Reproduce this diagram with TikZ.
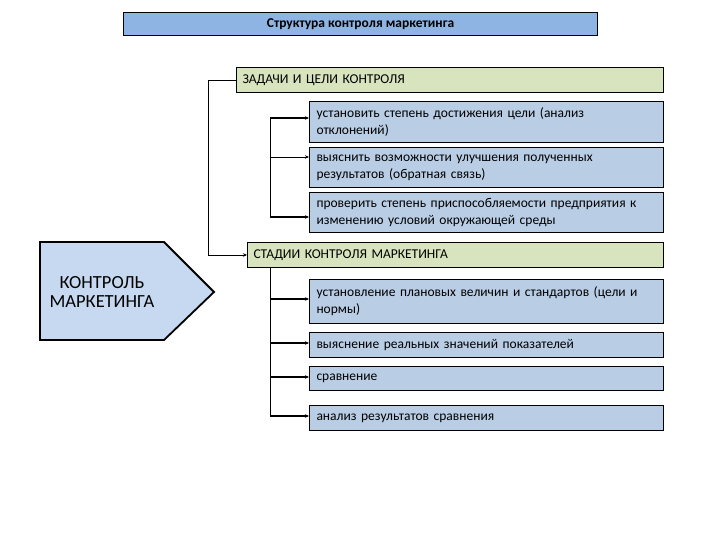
\documentclass[tikz,border=0pt]{standalone}
\usepackage{fontspec}
\setmainfont{Carlito}
\usetikzlibrary{arrows.meta}
\definecolor{titleblue}{RGB}{141,180,226}
\definecolor{boxgreen}{RGB}{215,228,189}
\definecolor{boxblue}{RGB}{185,205,229}
\definecolor{pentblue}{RGB}{198,217,241}
\tikzset{
  base/.style={draw=black, line width=1pt, anchor=north west, inner ysep=0pt,
    font=\fontsize{13.5}{17}\selectfont, align=left},
  titlebox/.style={draw=black, line width=1pt, fill=titleblue, anchor=north west,
    minimum width=474pt, minimum height=23pt, inner sep=0pt,
    font=\fontsize{13.5}{15}\selectfont\bfseries},
  greenbox/.style={base, fill=boxgreen, minimum height=25pt},
  bluebox/.style={base, fill=boxblue, minimum width=354pt, text width=340pt, inner xsep=7pt},
  conn/.style={line width=0.8pt, line join=miter},
  thickconn/.style={line width=1.6pt},
  tip/.style={-{Stealth[length=4pt,width=3.5pt]}},
}
\begin{document}
\begin{tikzpicture}[x=1pt,y=-1pt]
\useasboundingbox (0,0) rectangle (720,540);
% title
\node[titlebox] (title) at (123,12) {Структура контроля маркетинга};
% pentagon
\draw[line width=1.8pt, fill=pentblue, line join=miter]
  (40,242) -- (164,242) -- (214,292) -- (164,340) -- (40,340) -- cycle;
\node[font=\fontsize{18.5}{19.5}\selectfont, align=center] (ctrl) at (102,292) {КОНТРОЛЬ\\МАРКЕТИНГА};
% green headers
\node[greenbox, minimum width=427pt, text width=415pt, inner xsep=6pt] (g1) at (236,67) {ЗАДАЧИ И ЦЕЛИ КОНТРОЛЯ};
\node[greenbox, minimum width=416pt, text width=404pt, inner xsep=6pt] (g2) at (247,242) {СТАДИИ КОНТРОЛЯ МАРКЕТИНГА};
% goals
\node[bluebox, minimum height=41pt] (b1) at (309,101) {установить степень достижения цели (анализ\\отклонений)};
\node[bluebox, minimum height=40pt] (b2) at (309,147) {выяснить возможности улучшения полученных\\результатов (обратная связь)};
\node[bluebox, minimum height=40pt] (b3) at (309,192) {проверить степень приспособляемости предприятия к\\изменению условий окружающей среды};
% stages
\node[bluebox, minimum height=44pt] (s1) at (309,279) {установление плановых величин и стандартов (цели и\\нормы)};
\node[bluebox, minimum height=25pt] (s2) at (309,332) {выяснение реальных значений показателей};
\node[bluebox, minimum height=24pt] (s3) at (309,366) {сравнение};
\node[bluebox, minimum height=25pt] (s4) at (309,405) {анализ результатов сравнения};
% outer connector
\coordinate (o1) at ([xshift=-28pt]g1.west);
\draw[conn, tip] (g1.west) -- (o1) |- (g2.west);
% goal connectors
\coordinate (t1) at (270,118);
\coordinate (t2) at (270,157);
\coordinate (t3) at (270,217);
\draw[conn] (t1) -- (t3);
\draw[thickconn, tip] (t1) -- (t1 -| b1.west);
\draw[conn, tip] (t2) -- (t2 -| b2.west);
\draw[thickconn, tip] (t3) -- (t3 -| b3.west);
% stage connectors
\coordinate (u0) at (g2.south west -| t1);
\coordinate (u1) at (270,299);
\coordinate (u2) at (270,343);
\coordinate (u3) at (270,377);
\coordinate (u4) at (270,416);
\draw[conn] (u0) -- (u4);
\draw[thickconn, tip] (u1) -- (u1 -| s1.west);
\draw[thickconn, tip] (u2) -- (u2 -| s2.west);
\draw[thickconn, tip] (u3) -- (u3 -| s3.west);
\draw[thickconn, tip] (u4) -- (u4 -| s4.west);
\end{tikzpicture}
\end{document}
